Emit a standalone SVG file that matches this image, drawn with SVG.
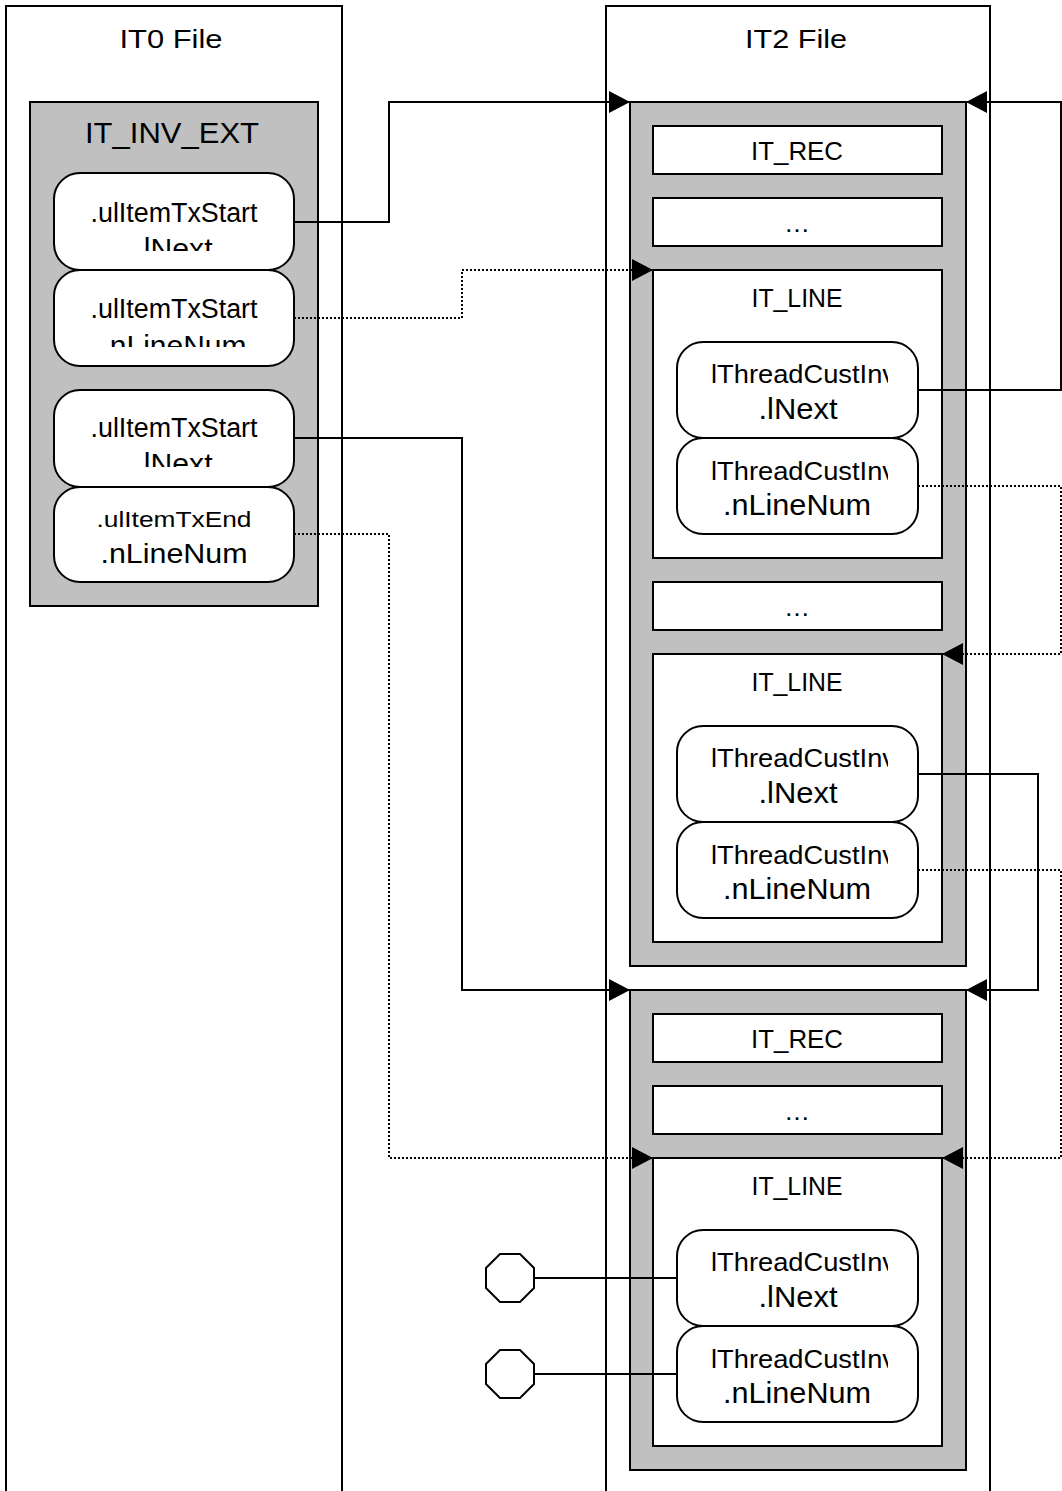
<svg xmlns="http://www.w3.org/2000/svg" width="1062" height="1491" viewBox="0 0 1062 1491">
  <style>
    text { font-family: "Liberation Sans", Arial, sans-serif; fill: #000; text-anchor: middle; }
    .file { fill: #fff; stroke: #000; stroke-width: 2; }
    .gray { fill: #c0c0c0; stroke: #000; stroke-width: 2; }
    .box { fill: #fff; stroke: #000; stroke-width: 2; }
    .field { fill: #fff; stroke: #000; stroke-width: 2; }
    .solid { fill: none; stroke: #000; stroke-width: 2; }
    .dot { fill: none; stroke: #000; stroke-width: 2; stroke-dasharray: 2 2; }
    .t26 { font-size: 26px; }
    .t29 { font-size: 29px; }
    .l1 { font-size: 27px; }
    .l2 { font-size: 30px; }
    .inv { font-size: 26px; text-anchor: start; }
  </style>
  <defs>
    <marker id="arrow" markerUnits="userSpaceOnUse" markerWidth="21" markerHeight="22" refX="21" refY="11" orient="auto" viewBox="0 0 21 22">
      <path d="M0,0 L21,11 L0,22 Z" fill="#000" stroke="none"/>
    </marker>
    <!-- clip regions for the overflowing field labels -->
    <clipPath id="clipA"><rect x="54" y="173" width="240" height="78"/></clipPath>
    <clipPath id="clipB"><rect x="54" y="270" width="240" height="77"/></clipPath>
    <clipPath id="clipC"><rect x="54" y="390" width="240" height="77"/></clipPath>
    <clipPath id="clipInv"><rect x="677" y="0" width="211" height="1491"/></clipPath>
  </defs>

  <rect width="1062" height="1491" fill="#fff"/>

  <!-- IT0 file -->
  <g id="it0-file">
    <rect class="file" x="6" y="6" width="336" height="1500"/>
    <text class="t26" x="171" y="48" textLength="103" lengthAdjust="spacingAndGlyphs">IT0 File</text>
  </g>

  <!-- IT2 file -->
  <g id="it2-file">
    <rect class="file" x="606" y="6" width="384" height="1500"/>
    <text class="t26" x="796" y="48" textLength="102" lengthAdjust="spacingAndGlyphs">IT2 File</text>
  </g>

  <!-- IT_INV_EXT record -->
  <g id="it-inv-ext">
    <rect class="gray" x="30" y="102" width="288" height="504"/>
    <text class="t29" x="172" y="143" textLength="174" lengthAdjust="spacingAndGlyphs">IT_INV_EXT</text>
  </g>
  <g id="start-lnext">
    <rect class="field" x="54" y="173" width="240" height="97" rx="26" ry="26"/>
    <g clip-path="url(#clipA)">
      <text class="l1" x="174" y="222" textLength="167" lengthAdjust="spacingAndGlyphs">.ulItemTxStart</text>
      <text class="l2" x="174" y="259" textLength="77" lengthAdjust="spacingAndGlyphs">.lNext</text>
    </g>
  </g>
  <g id="start-nlinenum">
    <rect class="field" x="54" y="270" width="240" height="96" rx="26" ry="26"/>
    <g clip-path="url(#clipB)">
      <text class="l1" x="174" y="318" textLength="167" lengthAdjust="spacingAndGlyphs">.ulItemTxStart</text>
      <text class="l2" x="174" y="356" textLength="145" lengthAdjust="spacingAndGlyphs">.nLineNum</text>
    </g>
  </g>
  <g id="start-lnext-2">
    <rect class="field" x="54" y="390" width="240" height="97" rx="26" ry="26"/>
    <g clip-path="url(#clipC)">
      <text class="l1" x="174" y="437" textLength="167" lengthAdjust="spacingAndGlyphs">.ulItemTxStart</text>
      <text class="l2" x="174" y="474" textLength="77" lengthAdjust="spacingAndGlyphs">.lNext</text>
    </g>
  </g>
  <g id="end-nlinenum">
    <rect class="field" x="54" y="487" width="240" height="95" rx="26" ry="26"/>
    <text x="174" y="527" font-size="22" textLength="155" lengthAdjust="spacingAndGlyphs">.ulItemTxEnd</text>
    <text x="174" y="563" font-size="28" textLength="147" lengthAdjust="spacingAndGlyphs">.nLineNum</text>
  </g>

  <!-- IT2 record 1 -->
  <g id="rec1">
    <rect class="gray" x="630" y="102" width="336" height="864"/>
  </g>
  <g id="rec1-it-rec">
    <rect class="box" x="653" y="126" width="289" height="48"/>
    <text class="t26" x="797" y="160" textLength="92" lengthAdjust="spacingAndGlyphs">IT_REC</text>
  </g>
  <g id="rec1-gap1">
    <rect class="box" x="653" y="198" width="289" height="48"/>
    <text class="t26" x="797" y="232">…</text>
  </g>
  <g id="rec1-line1">
    <rect class="box" x="653" y="270" width="289" height="288"/>
    <text class="t26" x="797" y="307" textLength="91" lengthAdjust="spacingAndGlyphs">IT_LINE</text>
  </g>
  <g id="rec1-line1-lnext">
    <rect class="field" x="677" y="342" width="241" height="96" rx="26" ry="26"/>
    <text class="inv" x="711" y="383" textLength="185" lengthAdjust="spacingAndGlyphs" clip-path="url(#clipInv)">lThreadCustInv</text>
    <text x="798" y="419" font-size="29" textLength="79" lengthAdjust="spacingAndGlyphs">.lNext</text>
  </g>
  <g id="rec1-line1-nlinenum">
    <rect class="field" x="677" y="438" width="241" height="96" rx="26" ry="26"/>
    <text class="inv" x="711" y="480" textLength="185" lengthAdjust="spacingAndGlyphs" clip-path="url(#clipInv)">lThreadCustInv</text>
    <text x="797" y="515" font-size="29" textLength="148" lengthAdjust="spacingAndGlyphs">.nLineNum</text>
  </g>
  <g id="rec1-gap2">
    <rect class="box" x="653" y="582" width="289" height="48"/>
    <text class="t26" x="797" y="616">…</text>
  </g>
  <g id="rec1-line2">
    <rect class="box" x="653" y="654" width="289" height="288"/>
    <text class="t26" x="797" y="691" textLength="91" lengthAdjust="spacingAndGlyphs">IT_LINE</text>
  </g>
  <g id="rec1-line2-lnext">
    <rect class="field" x="677" y="726" width="241" height="96" rx="26" ry="26"/>
    <text class="inv" x="711" y="767" textLength="185" lengthAdjust="spacingAndGlyphs" clip-path="url(#clipInv)">lThreadCustInv</text>
    <text x="798" y="803" font-size="29" textLength="79" lengthAdjust="spacingAndGlyphs">.lNext</text>
  </g>
  <g id="rec1-line2-nlinenum">
    <rect class="field" x="677" y="822" width="241" height="96" rx="26" ry="26"/>
    <text class="inv" x="711" y="864" textLength="185" lengthAdjust="spacingAndGlyphs" clip-path="url(#clipInv)">lThreadCustInv</text>
    <text x="797" y="899" font-size="29" textLength="148" lengthAdjust="spacingAndGlyphs">.nLineNum</text>
  </g>

  <!-- IT2 record 2 -->
  <g id="rec2">
    <rect class="gray" x="630" y="990" width="336" height="480"/>
  </g>
  <g id="rec2-it-rec">
    <rect class="box" x="653" y="1014" width="289" height="48"/>
    <text class="t26" x="797" y="1048" textLength="92" lengthAdjust="spacingAndGlyphs">IT_REC</text>
  </g>
  <g id="rec2-gap1">
    <rect class="box" x="653" y="1086" width="289" height="48"/>
    <text class="t26" x="797" y="1120">…</text>
  </g>
  <g id="rec2-line1">
    <rect class="box" x="653" y="1158" width="289" height="288"/>
    <text class="t26" x="797" y="1195" textLength="91" lengthAdjust="spacingAndGlyphs">IT_LINE</text>
  </g>
  <g id="rec2-line1-lnext">
    <rect class="field" x="677" y="1230" width="241" height="96" rx="26" ry="26"/>
    <text class="inv" x="711" y="1271" textLength="185" lengthAdjust="spacingAndGlyphs" clip-path="url(#clipInv)">lThreadCustInv</text>
    <text x="798" y="1307" font-size="29" textLength="79" lengthAdjust="spacingAndGlyphs">.lNext</text>
  </g>
  <g id="rec2-line1-nlinenum">
    <rect class="field" x="677" y="1326" width="241" height="96" rx="26" ry="26"/>
    <text class="inv" x="711" y="1368" textLength="185" lengthAdjust="spacingAndGlyphs" clip-path="url(#clipInv)">lThreadCustInv</text>
    <text x="797" y="1403" font-size="29" textLength="148" lengthAdjust="spacingAndGlyphs">.nLineNum</text>
  </g>

  <!-- terminators (null links) -->
  <g id="term-lnext">
    <polygon class="box" points="500,1254 520,1254 534,1268 534,1288 520,1302 500,1302 486,1288 486,1268"/>
  </g>
  <g id="term-nlinenum">
    <polygon class="box" points="500,1350 520,1350 534,1364 534,1384 520,1398 500,1398 486,1384 486,1364"/>
  </g>

  <!-- links -->
  <g id="connectors">
    <path class="solid" d="M294,222 H389 V102 H630" marker-end="url(#arrow)"/>
    <path class="dot" d="M294,318 H462 V270 H653" marker-end="url(#arrow)"/>
    <path class="solid" d="M294,438 H462 V990 H630" marker-end="url(#arrow)"/>
    <path class="dot" d="M294,534 H389 V1158 H653" marker-end="url(#arrow)"/>
    <path class="solid" d="M918,390 H1061 V102 H966" marker-end="url(#arrow)"/>
    <path class="dot" d="M918,486 H1061 V654 H942" marker-end="url(#arrow)"/>
    <path class="solid" d="M918,774 H1038 V990 H966" marker-end="url(#arrow)"/>
    <path class="dot" d="M918,870 H1061 V1158 H942" marker-end="url(#arrow)"/>
    <path class="solid" d="M534,1278 H677"/>
    <path class="solid" d="M534,1374 H677"/>
  </g>
</svg>
